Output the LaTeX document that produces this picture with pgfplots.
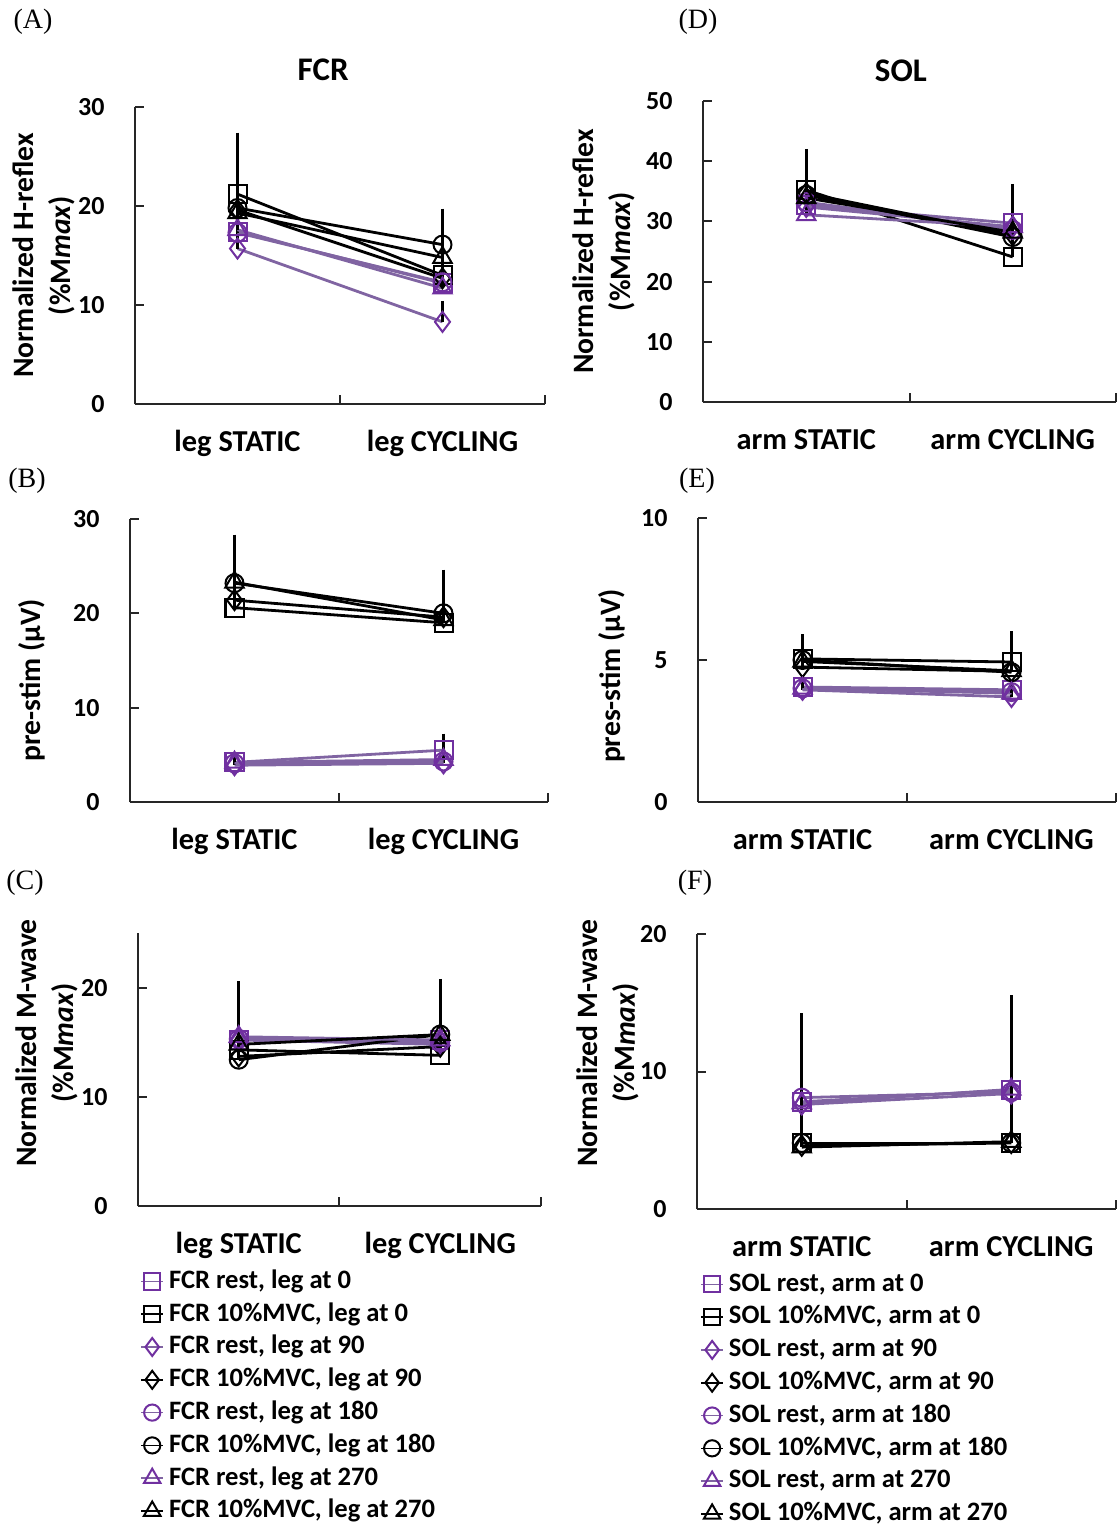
\documentclass[border=0pt]{standalone}
\usepackage{fontspec}
\setmainfont{Carlito}
\newfontfamily\plfont{Liberation Serif}
\usepackage{pgfplots}
\pgfplotsset{compat=1.18}

\definecolor{purmk}{HTML}{7030A0}
\definecolor{purln}{HTML}{8064A2}
\definecolor{axgray}{HTML}{262626}

\pgfplotsset{
  panel/.style={
    scale only axis,
    anchor=south west,
    axis x line=bottom, axis y line=left,
    axis line style={-, axgray, line width=1pt},
    tick align=inside,
    major tick length=4.5pt,
    tick style={axgray, line width=1pt},
    xmin=0.5, xmax=2.5, ymin=0,
    xtick={0.5,1.5,2.5}, xticklabels={,,},
    extra x ticks={1,2},
    extra x tick style={major tick length=0pt,
      tick label style={font=\bfseries\fontsize{15.2}{18}\selectfont, anchor=base, yshift=-23.6pt}},
    /pgf/number format/assume math mode=true,
    yticklabel style={font=\bfseries\fontsize{13}{15}\selectfont, anchor=east, inner xsep=0pt, xshift=-15pt},
    ylabel style={font=\bfseries\fontsize{14.8}{18.5}\selectfont, align=center, anchor=center},
    title style={font=\bfseries\fontsize{16.5}{19}\selectfont, anchor=center, yshift=-5.5pt},
    mark size=4.5pt,
    clip=false,
  },
  pur/.style={color=purln, line width=1.4pt, mark options={draw=purmk, line width=1pt, fill=none, solid}},
  blk/.style={color=black, line width=1.4pt, mark options={draw=black, line width=1pt, fill=none, solid}},
  eb/.style={error bars/.cd, y dir=plus, y explicit,
    error bar style={black, line width=1.3pt, solid},
    error mark options={black, line width=1.3pt, mark size=1.6pt}},
  leg/.style={
    legend style={draw=none, fill=none, anchor=north west,
      font=\bfseries\fontsize{13.3}{15}\selectfont,
      row sep=4.2pt, column sep=2.5pt, inner sep=0pt,
      nodes={inner sep=0pt, text height=9.5pt, text depth=2.7pt}},
    legend cell align=left,
    legend image code/.code={\draw[mark repeat=2, mark phase=2, ##1, line width=0.8pt, /tikz/every mark/.append style={scale=0.9}]
      plot coordinates {(0pt,0pt) (5.5pt,0pt) (11pt,0pt)};}},
}

\begin{document}
\begin{tikzpicture}
\path[use as bounding box] (0pt,0pt) rectangle (558pt,-763.5pt);

% panel labels
\node[font=\plfont\fontsize{14}{16}\selectfont] at (16.5pt,-11pt) {(A)};
\node[font=\plfont\fontsize{14}{16}\selectfont] at (349pt,-11pt) {(D)};
\node[font=\plfont\fontsize{14}{16}\selectfont] at (13.5pt,-240.5pt) {(B)};
\node[font=\plfont\fontsize{14}{16}\selectfont] at (348.5pt,-240.5pt) {(E)};
\node[font=\plfont\fontsize{14}{16}\selectfont] at (12.5pt,-441.5pt) {(C)};
\node[font=\plfont\fontsize{14}{16}\selectfont] at (347.5pt,-441.5pt) {(F)};

% (A) FCR H-reflex
\begin{axis}[panel, at={(67.5pt,-202pt)}, width=205pt, height=148.5pt,
  ymax=30, ytick={0,10,20,30},
  extra x tick labels={leg STATIC,leg CYCLING},
  title={FCR}, title style={at={(axis description cs:0.459,1.121)}},
  ylabel={Normalized H-reflex\\(\%M\textit{max})},
  ylabel style={at={(axis description cs:-0.223,0.5)}}]
\addplot[pur, mark=square, eb] coordinates {(1,17.4) +- (0,4.4) (2,12.2) +- (0,1.2)};
\addplot[blk, mark=square, eb] coordinates {(1,21.2) +- (0,5.9) (2,13.0) +- (0,2.0)};
\addplot[pur, mark=diamond, mark size=5pt, eb] coordinates {(1,15.7) +- (0,2.5) (2,8.3) +- (0,1.8)};
\addplot[blk, mark=diamond, mark size=5pt, eb] coordinates {(1,19.6) +- (0,4.7) (2,12.7) +- (0,1.6)};
\addplot[pur, mark=o, eb] coordinates {(1,17.3) +- (0,3.0) (2,12.3) +- (0,1.4)};
\addplot[blk, mark=o, eb] coordinates {(1,19.8) +- (0,5.6) (2,16.1) +- (0,3.3)};
\addplot[pur, mark=triangle, mark size=5.3pt, eb] coordinates {(1,17.6) +- (0,2.6) (2,11.7) +- (0,1.3)};
\addplot[blk, mark=triangle, mark size=5.3pt, eb] coordinates {(1,19.3) +- (0,3.1) (2,14.8) +- (0,2.5)};
\end{axis}

% (D) SOL H-reflex
\begin{axis}[panel, at={(351.5pt,-201pt)}, width=206.5pt, height=150.5pt,
  ymax=50, ytick={0,10,20,30,40,50},
  extra x tick labels={arm STATIC,arm CYCLING},
  title={SOL}, title style={at={(axis description cs:0.479,1.096)}},
  ylabel={Normalized H-reflex\\(\%M\textit{max})},
  ylabel style={at={(axis description cs:-0.241,0.5)}}]
\addplot[pur, mark=square, eb] coordinates {(1,32.7) +- (0,5.8) (2,29.7) +- (0,2.7)};
\addplot[blk, mark=square, eb] coordinates {(1,35.2) +- (0,6.3) (2,24.1) +- (0,8.3)};
\addplot[pur, mark=diamond, mark size=5pt, eb] coordinates {(1,32.4) +- (0,4.0) (2,29.1) +- (0,3.0)};
\addplot[blk, mark=diamond, mark size=5pt, eb] coordinates {(1,34.7) +- (0,5.5) (2,27.7) +- (0,6.2)};
\addplot[pur, mark=o, eb] coordinates {(1,33.2) +- (0,4.0) (2,28.6) +- (0,3.0)};
\addplot[blk, mark=o, eb] coordinates {(1,34.4) +- (0,6.3) (2,27.4) +- (0,8.3)};
\addplot[pur, mark=triangle, mark size=5.3pt, eb] coordinates {(1,31.1) +- (0,4.0) (2,29.1) +- (0,3.0)};
\addplot[blk, mark=triangle, mark size=5.3pt, eb] coordinates {(1,33.9) +- (0,5.5) (2,28.2) +- (0,6.7)};
\end{axis}

% (B) FCR pre-stim
\begin{axis}[panel, at={(65pt,-401pt)}, width=209pt, height=141.5pt,
  ymax=30, ytick={0,10,20,30},
  extra x tick labels={leg STATIC,leg CYCLING},
  ylabel={pre-stim (µV)},
  ylabel style={at={(axis description cs:-0.234,0.431)}}]
\addplot[pur, mark=square, eb] coordinates {(1,4.2) +- (0,0.6) (2,5.5) +- (0,1.4)};
\addplot[blk, mark=square, eb] coordinates {(1,20.6) +- (0,2.0) (2,19.0) +- (0,4.0)};
\addplot[pur, mark=diamond, mark size=5pt, eb] coordinates {(1,3.9) +- (0,0.5) (2,4.1) +- (0,0.4)};
\addplot[blk, mark=diamond, mark size=5pt, eb] coordinates {(1,21.4) +- (0,2.5) (2,19.6) +- (0,4.1)};
\addplot[pur, mark=o, eb] coordinates {(1,4.1) +- (0,0.4) (2,4.3) +- (0,0.5)};
\addplot[blk, mark=o, eb] coordinates {(1,23.2) +- (0,4.8) (2,20.0) +- (0,4.3)};
\addplot[pur, mark=triangle, mark size=5.3pt, eb] coordinates {(1,4.2) +- (0,0.4) (2,4.5) +- (0,0.4)};
\addplot[blk, mark=triangle, mark size=5.3pt, eb] coordinates {(1,23.3) +- (0,2.2) (2,19.3) +- (0,3.7)};
\end{axis}

% (E) SOL pre-stim
\begin{axis}[panel, at={(349pt,-401pt)}, width=209pt, height=142pt,
  ymax=10, ytick={0,5,10},
  extra x tick labels={arm STATIC,arm CYCLING},
  ylabel={pres-stim (µV)},
  ylabel style={at={(axis description cs:-0.206,0.444)}}]
\addplot[pur, mark=square, eb] coordinates {(1,4.05) +- (0,0.2) (2,3.95) +- (0,0.2)};
\addplot[blk, mark=square, eb] coordinates {(1,5.04) +- (0,0.76) (2,4.93) +- (0,0.97)};
\addplot[pur, mark=diamond, mark size=5pt, eb] coordinates {(1,3.95) +- (0,0.2) (2,3.7) +- (0,0.2)};
\addplot[blk, mark=diamond, mark size=5pt, eb] coordinates {(1,4.75) +- (0,0.9) (2,4.6) +- (0,0.8)};
\addplot[pur, mark=o, eb] coordinates {(1,4.0) +- (0,0.2) (2,3.87) +- (0,0.2)};
\addplot[blk, mark=o, eb] coordinates {(1,5.0) +- (0,0.7) (2,4.57) +- (0,0.9)};
\addplot[pur, mark=triangle, mark size=5.3pt, eb] coordinates {(1,4.0) +- (0,0.2) (2,3.83) +- (0,0.2)};
\addplot[blk, mark=triangle, mark size=5.3pt, eb] coordinates {(1,4.95) +- (0,0.7) (2,4.62) +- (0,0.8)};
\end{axis}

% (C) FCR M-wave
\begin{axis}[panel, leg, at={(69pt,-603pt)}, width=201.5pt, height=136.5pt,
  ymax=25, ytick={0,10,20},
  extra x tick labels={leg STATIC,leg CYCLING},
  ylabel={Normalized M-wave\\(\%M\textit{max})},
  ylabel style={at={(axis description cs:-0.227,0.597)}},
  legend style={at={(0.005,-0.23)}}]
\addplot[pur, mark=square, eb] coordinates {(1,15.2) +- (0,4.0) (2,15.2) +- (0,4.3)};
\addlegendentry{FCR rest, leg at 0}
\addplot[blk, mark=square, eb] coordinates {(1,14.3) +- (0,3.4) (2,13.8) +- (0,5.4)};
\addlegendentry{FCR 10\%MVC, leg at 0}
\addplot[pur, mark=diamond, mark size=5pt, eb] coordinates {(1,15.2) +- (0,3.0) (2,14.8) +- (0,4.0)};
\addlegendentry{FCR rest, leg at 90}
\addplot[blk, mark=diamond, mark size=5pt, eb] coordinates {(1,13.7) +- (0,4.9) (2,14.6) +- (0,5.0)};
\addlegendentry{FCR 10\%MVC, leg at 90}
\addplot[pur, mark=o, eb] coordinates {(1,15.3) +- (0,3.3) (2,15.0) +- (0,4.6)};
\addlegendentry{FCR rest, leg at 180}
\addplot[blk, mark=o, eb] coordinates {(1,13.4) +- (0,6.9) (2,15.7) +- (0,4.8)};
\addlegendentry{FCR 10\%MVC, leg at 180}
\addplot[pur, mark=triangle, mark size=5.3pt, eb] coordinates {(1,15.5) +- (0,2.5) (2,15.2) +- (0,3.5)};
\addlegendentry{FCR rest, leg at 270}
\addplot[blk, mark=triangle, mark size=5.3pt, eb] coordinates {(1,14.8) +- (0,3.8) (2,15.7) +- (0,3.9)};
\addlegendentry{FCR 10\%MVC, leg at 270}
\end{axis}

% (F) SOL M-wave
\begin{axis}[panel, leg, at={(348.5pt,-604.5pt)}, width=209.5pt, height=137.5pt,
  ymax=20, ytick={0,10,20},
  extra x tick labels={arm STATIC,arm CYCLING},
  ylabel={Normalized M-wave\\(\%M\textit{max})},
  ylabel style={at={(axis description cs:-0.212,0.604)}},
  legend style={at={(0.007,-0.228)}}]
\addplot[pur, mark=square, eb] coordinates {(1,7.8) +- (0,5.1) (2,8.65) +- (0,5.6)};
\addlegendentry{SOL rest, arm at 0}
\addplot[blk, mark=square, eb] coordinates {(1,4.8) +- (0,9.2) (2,4.8) +- (0,10.5)};
\addlegendentry{SOL 10\%MVC, arm at 0}
\addplot[pur, mark=diamond, mark size=5pt, eb] coordinates {(1,7.6) +- (0,5.3) (2,8.4) +- (0,5.0)};
\addlegendentry{SOL rest, arm at 90}
\addplot[blk, mark=diamond, mark size=5pt, eb] coordinates {(1,4.6) +- (0,8.9) (2,4.8) +- (0,10.2)};
\addlegendentry{SOL 10\%MVC, arm at 90}
\addplot[pur, mark=o, eb] coordinates {(1,8.1) +- (0,4.8) (2,8.5) +- (0,5.8)};
\addlegendentry{SOL rest, arm at 180}
\addplot[blk, mark=o, eb] coordinates {(1,4.8) +- (0,8.1) (2,4.8) +- (0,9.5)};
\addlegendentry{SOL 10\%MVC, arm at 180}
\addplot[pur, mark=triangle, mark size=5.3pt, eb] coordinates {(1,7.7) +- (0,5.2) (2,8.7) +- (0,5.4)};
\addlegendentry{SOL rest, arm at 270}
\addplot[blk, mark=triangle, mark size=5.3pt, eb] coordinates {(1,4.5) +- (0,8.8) (2,4.9) +- (0,10.0)};
\addlegendentry{SOL 10\%MVC, arm at 270}
\end{axis}
\end{tikzpicture}
\end{document}
